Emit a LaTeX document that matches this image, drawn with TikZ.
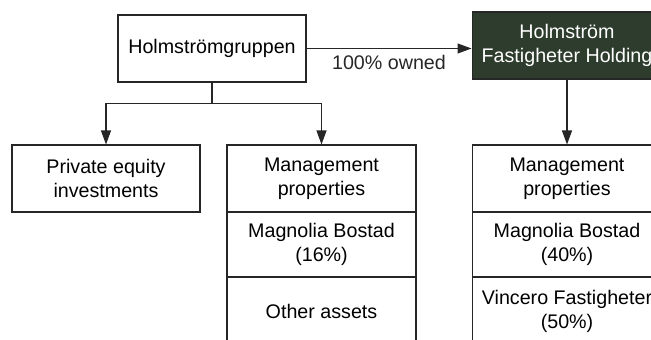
\documentclass[tikz,border=0pt]{standalone}
\usepackage{fontspec}
\setmainfont{Liberation Sans}
\usetikzlibrary{arrows.meta}
\definecolor{holdgreen}{RGB}{45,60,45}

\begin{document}
\begin{tikzpicture}[x=0.02cm,y=-0.02cm,
        box/.style={rectangle,draw=black!85,line width=0.6pt,align=center,inner sep=0pt,
            font=\fontsize{11.2}{13.6}\selectfont},
        cellL/.style={box,minimum width=3.78cm},
        cellR/.style={box,minimum width=3.8cm},
        >={Triangle[width=0.2cm,length=0.28cm]}]
                    \clip (0,0) rectangle (651,340);
                    \path
                    (212,48.5) node[box,minimum width=3.76cm,minimum height=1.34cm](grp) {Holmströmgruppen}
                    (567,45.5) node[box,minimum width=3.8cm,minimum height=1.34cm,fill=holdgreen,text=white](hold) {Holmström\\Fastigheter Holding}
                    (106,178.5) node[box,minimum width=3.76cm,minimum height=1.34cm](pe) {Private equity\\investments}
                    (321.5,178.5) node[cellL,minimum height=1.34cm](mgA) {Management\\properties}
                    (321.5,244.5) node[cellL,minimum height=1.3cm](magA) {Magnolia Bostad\\(16\%)}
                    (321.5,311) node[cellL,minimum height=1.36cm](oth) {Other assets}
                    (567,178.5) node[cellR,minimum height=1.34cm](mgB) {Management\\properties}
                    (567,244.5) node[cellR,minimum height=1.3cm](magB) {Magnolia Bostad\\(40\%)}
                    (567,311) node[cellR,minimum height=1.36cm](vin) {Vincero Fastigheter\\(50\%)};

                    \draw[black!85,line width=0.6pt] (grp.south) -- ++(0,21) coordinate (split);
                    \draw[->,black!85,line width=0.6pt] (split) -| (pe.north);
                    \draw[->,black!85,line width=0.6pt] (split) -| (mgA.north);

                    \draw[->,black!85,line width=0.6pt] (grp.east) -- node[below,font=\fontsize{11.2}{13.6}\selectfont]{100\% owned} (grp.east -| hold.west);
                    \draw[->,black!85,line width=0.6pt] (hold.south) -- (mgB.north);
                \end{tikzpicture}
\end{document}
